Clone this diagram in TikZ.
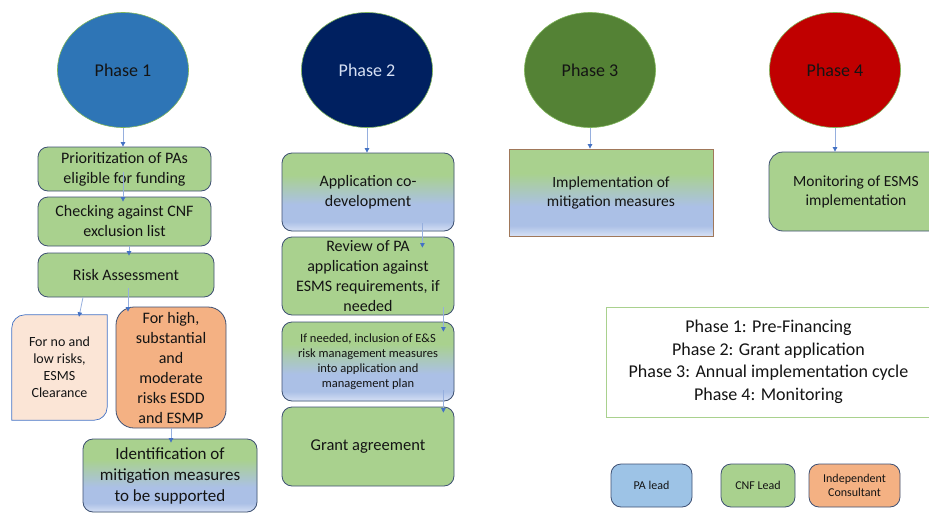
\documentclass[tikz,border=0pt]{standalone}
\usepackage{fontspec}
\setmainfont{Carlito}
\usetikzlibrary{arrows.meta,shapes.geometric,calc,backgrounds}
\definecolor{gr}{HTML}{A9D18E}
\definecolor{bbl}{HTML}{ABC0E6}
\definecolor{lbl}{HTML}{D6E0F4}
\definecolor{bdr}{RGB}{62,80,115}
\definecolor{ph1}{HTML}{2E75B6}
\definecolor{ph2}{HTML}{002060}
\definecolor{ph3}{HTML}{548235}
\definecolor{ph4}{HTML}{C00000}
\definecolor{elb}{HTML}{7FB55A}
\definecolor{peach}{HTML}{FBE5D6}
\definecolor{orng}{HTML}{F4B183}
\definecolor{palead}{HTML}{9DC3E6}
\definecolor{lnc}{RGB}{150,175,222}
\definecolor{tipc}{HTML}{4472C4}
\definecolor{brn}{RGB}{160,120,90}
\definecolor{txt}{RGB}{20,20,20}
\pgfdeclareverticalshading{gbshade}{100bp}{color(0bp)=(lbl); color(25bp)=(lbl); color(31bp)=(bbl); color(42bp)=(bbl); color(61bp)=(gr); color(100bp)=(gr)}
\tikzset{
  phase/.style={ellipse, draw=elb, line width=0.6pt, minimum width=131pt, minimum height=115pt, inner sep=0pt, font=\fontsize{18}{22}\selectfont},
  gbox/.style={draw=bdr, line width=0.8pt, rounded corners=10pt, fill=gr, inner sep=0pt, align=center, text=txt, font=\fontsize{16}{20}\selectfont},
  gradbox/.style={gbox, shading=gbshade},
  conn/.style={draw=lnc, line width=0.8pt, -{Triangle[length=4.5pt,width=4.5pt,color=tipc]}},
}
\begin{document}
\begin{tikzpicture}[x=1pt,y=-1pt]
\useasboundingbox (0,0) rectangle (929,514);
% phases
\node[phase, fill=ph1, text=txt] (p1) at (123,70) {Phase 1};
\node[phase, fill=ph2, text=lbl] (p2) at (367,70) {Phase 2};
\node[phase, fill=ph3, text=txt] (p3) at (590,70) {Phase 3};
\node[phase, fill=ph4, text=txt] (p4) at (835,70) {Phase 4};
% phase 1 column
\node[gbox, minimum width=173pt, minimum height=44pt] (b1) at (124.5,169) {Prioritization of PAs\\eligible for funding};
\node[gbox, minimum width=173pt, minimum height=49pt] (b2) at (124.5,221.5) {Checking against CNF\\exclusion list};
\node[gbox, minimum width=176pt, minimum height=44pt] (b3) at (126,275) {Risk Assessment};
\node[align=center, text=txt, inner sep=0pt, minimum width=95pt, minimum height=105pt, font=\fontsize{14}{17}\selectfont] (low) at (59.5,367.5) {For no and\\low risks,\\ESMS\\Clearance};
\begin{pgfonlayer}{background}
\filldraw[fill=peach, draw=tipc, line width=0.7pt] (low.south west) -- ([yshift=-13pt]low.north west) arc[start angle=180, end angle=90, radius=13pt] -- (low.north east) -- ([yshift=13pt]low.south east) arc[start angle=0, end angle=-90, radius=13pt] -- cycle;
\end{pgfonlayer}
\node[gbox, fill=orng, rounded corners=18pt, minimum width=110pt, minimum height=121pt] (or) at (171,367.5) {For high,\\substantial\\and\\moderate\\risks ESDD\\and ESMP};
\node[gradbox, minimum width=174pt, minimum height=73pt, font=\fontsize{17}{21}\selectfont] (id) at (170,475.5) {Identification of\\mitigation measures\\to be supported};
% phase 2 column
\node[gradbox, minimum width=172pt, minimum height=78pt] (app) at (368,192) {Application co-\\development};
\node[gbox, minimum width=172pt, minimum height=78pt] (rev) at (368,276) {Review of PA\\application against\\ESMS requirements, if\\needed};
\node[gradbox, minimum width=172pt, minimum height=79pt, font=\fontsize{12.5}{15}\selectfont] (inc) at (368,361.5) {If needed, inclusion of E\&S\\risk management measures\\into application and\\management plan};
\node[gbox, minimum width=172pt, minimum height=79pt, font=\fontsize{16.5}{20}\selectfont] (ga) at (368,446.5) {Grant agreement};
% phase 3, 4
\node[gradbox, draw=brn, rounded corners=0pt, minimum width=204pt, minimum height=87pt, font=\fontsize{15.5}{19}\selectfont] (imp) at (611,192.5) {Implementation of\\mitigation measures};
\node[gbox, rounded corners=14pt, minimum width=174pt, minimum height=79pt, font=\fontsize{15.5}{19}\selectfont] (mon) at (856,191.5) {Monitoring of ESMS\\implementation};
% legend
\node[draw=gr, line width=1pt, fill=white, align=center, text=txt, inner sep=0pt, minimum width=325pt, minimum height=110pt, font=\fontsize{18}{22.5}\selectfont] (leg) at (768.5,362) {Phase 1: Pre-Financing\\Phase 2: Grant application\\Phase 3: Annual implementation cycle\\Phase 4: Monitoring};
\node[gbox, fill=palead, minimum width=81pt, minimum height=43pt, font=\fontsize{12}{14.5}\selectfont] (pa) at (651.5,485.5) {PA lead};
\node[gbox, minimum width=74pt, minimum height=43pt, font=\fontsize{12}{14.5}\selectfont] (cnf) at (758,485.5) {CNF Lead};
\node[gbox, fill=orng, minimum width=91pt, minimum height=43pt, font=\fontsize{12}{14.5}\selectfont] (ic) at (854.5,485.5) {Independent\\Consultant};
% connectors
\draw[conn] (p1.south) -- (p1.south |- b1.north);
\draw[conn] ([yshift=-3pt]p1.south |- b1.center) -- ([yshift=-5pt]p1.south |- b2.north);
\draw[conn] ([xshift=4.5pt]b2.south) -- ([xshift=3pt,yshift=-3pt]b3.north);
\draw[conn] ([xshift=2pt,yshift=9pt]b3.south) -- ([xshift=-43pt,yshift=-5pt]or.north);
\draw[conn] ([xshift=-43pt]b3.south) -- ([xshift=19.5pt,yshift=-2pt]low.north);
\draw[conn] (or.south) -- ([yshift=-4pt]or.south |- id.north);
\draw[conn] (p2.south) -- (p2.south |- app.north);
\draw[conn] ([xshift=-32pt,yshift=8pt]app.south east) -- ([xshift=-32pt,yshift=-11pt]rev.north east);
\draw[conn] ([xshift=-11pt,yshift=8pt]rev.south east) -- ([xshift=-11pt,yshift=-10pt]inc.north east);
\draw[conn] ([xshift=-11pt,yshift=11pt]inc.south east) -- ([xshift=-11pt,yshift=-6pt]ga.north east);
\draw[conn] (p3.south) -- (p3.south |- imp.north);
\draw[conn] (p4.south) -- (p4.south |- mon.north);
\end{tikzpicture}
\end{document}
